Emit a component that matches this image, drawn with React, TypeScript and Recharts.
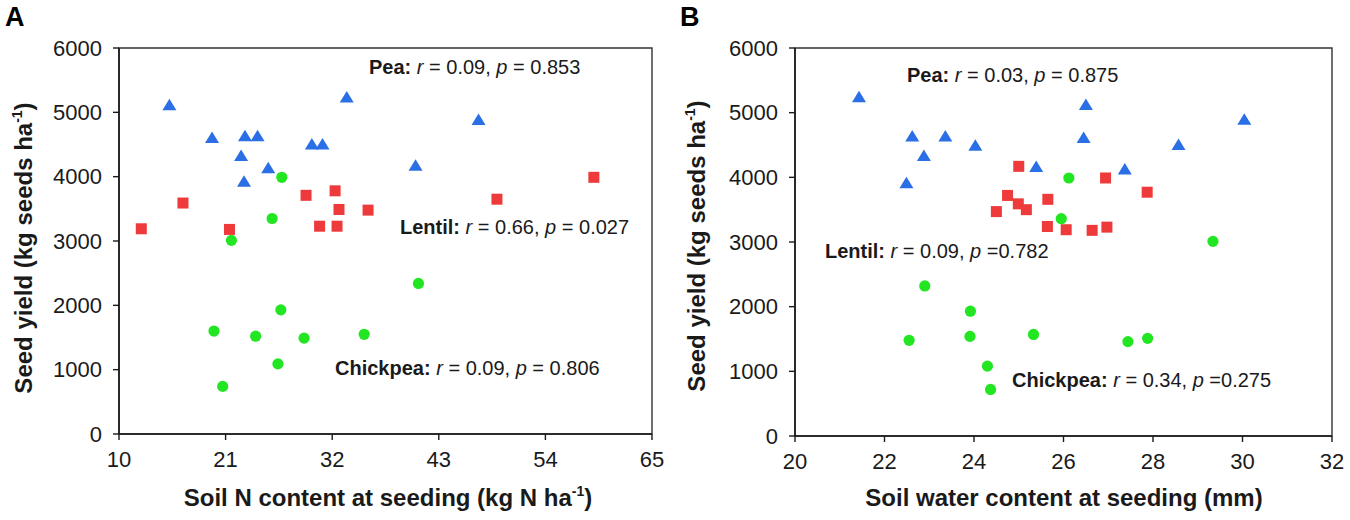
import React from 'react';
import { ScatterChart, Scatter, XAxis, YAxis, ReferenceArea } from 'recharts';

// ── Data ───────────────────────────────────────────────────────────────────
// Panel A: soil N content at seeding (kg N/ha) vs seed yield (kg/ha)
const peaA = [
  { x: 15.2, y: 5110 }, { x: 19.6, y: 4600 }, { x: 22.6, y: 4320 }, { x: 22.9, y: 3920 },
  { x: 23.0, y: 4630 }, { x: 24.3, y: 4630 }, { x: 25.4, y: 4130 }, { x: 29.9, y: 4500 },
  { x: 31.0, y: 4500 }, { x: 33.5, y: 5230 }, { x: 40.6, y: 4170 }, { x: 47.1, y: 4880 },
];
const lentilA = [
  { x: 12.3, y: 3190 }, { x: 16.6, y: 3590 }, { x: 21.4, y: 3180 }, { x: 29.3, y: 3710 },
  { x: 30.7, y: 3230 }, { x: 32.3, y: 3780 }, { x: 32.5, y: 3230 }, { x: 32.7, y: 3490 },
  { x: 35.7, y: 3480 }, { x: 49.0, y: 3650 }, { x: 59.0, y: 3990 },
];
const chickpeaA = [
  { x: 19.8, y: 1600 }, { x: 20.7, y: 740 }, { x: 21.6, y: 3010 }, { x: 24.1, y: 1520 },
  { x: 25.8, y: 3350 }, { x: 26.4, y: 1090 }, { x: 26.7, y: 1930 }, { x: 26.8, y: 3990 },
  { x: 29.1, y: 1490 }, { x: 35.3, y: 1550 }, { x: 40.9, y: 2340 },
];

// Panel B: soil water content at seeding (mm) vs seed yield (kg/ha)
const peaB = [
  { x: 21.43, y: 5240 }, { x: 22.49, y: 3910 }, { x: 22.62, y: 4630 }, { x: 22.88, y: 4330 },
  { x: 23.36, y: 4630 }, { x: 24.03, y: 4490 }, { x: 25.39, y: 4160 }, { x: 26.45, y: 4610 },
  { x: 26.5, y: 5120 }, { x: 27.37, y: 4120 }, { x: 28.57, y: 4500 }, { x: 30.04, y: 4890 },
];
const lentilB = [
  { x: 24.5, y: 3470 }, { x: 24.75, y: 3720 }, { x: 24.99, y: 3590 }, { x: 25.0, y: 4170 },
  { x: 25.17, y: 3500 }, { x: 25.64, y: 3240 }, { x: 25.65, y: 3660 }, { x: 26.06, y: 3190 },
  { x: 26.64, y: 3180 }, { x: 26.94, y: 3990 }, { x: 26.97, y: 3230 }, { x: 27.87, y: 3770 },
];
const chickpeaB = [
  { x: 22.55, y: 1480 }, { x: 22.9, y: 2320 }, { x: 23.91, y: 1540 }, { x: 23.92, y: 1930 },
  { x: 24.3, y: 1080 }, { x: 24.37, y: 720 }, { x: 25.33, y: 1570 }, { x: 25.95, y: 3360 },
  { x: 26.12, y: 3990 }, { x: 27.44, y: 1460 }, { x: 27.88, y: 1510 }, { x: 29.34, y: 3010 },
];

const nTicks = [10, 21, 32, 43, 54, 65];
const waterTicks = [20, 22, 24, 26, 28, 30, 32];
const yieldTicks = [0, 1000, 2000, 3000, 4000, 5000, 6000];

// ── Styling ────────────────────────────────────────────────────────────────
const FONT = '"Liberation Sans", Arial, sans-serif';
const INK = '#1a1a1a';
const PEA = '#2a6fe6';
const LENTIL = '#ee3a3a';
const CHICKPEA = '#22e622';

const tickStyle = { fill: INK, fontSize: 22, fontFamily: FONT };
const axisLine = { stroke: INK, strokeWidth: 1.6 };
const tickLine = { stroke: INK, strokeWidth: 1.4 };

// marker shapes — cx/cy come from the chart's scales
const Triangle = (p: any) => (
  <polygon
    points={`${p.cx},${p.cy - 6.5} ${p.cx - 7},${p.cy + 5} ${p.cx + 7},${p.cy + 5}`}
    fill={PEA}
  />
);
const Square = (p: any) => (
  <rect x={p.cx - 5.5} y={p.cy - 5.5} width={11} height={11} fill={LENTIL} />
);
const Dot = (p: any) => <circle cx={p.cx} cy={p.cy} r={5.6} fill={CHICKPEA} />;

function Stat({ x, y, crop, r, p }: { x: number; y: number; crop: string; r: string; p: string }) {
  return (
    <text x={x} y={y} fontSize={20} fontFamily={FONT} fill={INK}>
      <tspan fontWeight="bold">{crop}:</tspan>{' '}
      <tspan fontStyle="italic">r</tspan>{` = ${r}, `}
      <tspan fontStyle="italic">p</tspan>{` ${p}`}
    </text>
  );
}

function Panel({
  pea, lentil, chickpea, domain, ticks, margin,
}: {
  pea: any[]; lentil: any[]; chickpea: any[];
  domain: [number, number]; ticks: number[];
  margin: { top: number; right: number; bottom: number; left: number };
}) {
  return (
    <ScatterChart width={675} height={520} margin={margin}>
      <XAxis
        type="number" dataKey="x" domain={domain} ticks={ticks} height={30}
        tick={tickStyle} axisLine={axisLine} tickLine={tickLine} tickSize={6} tickMargin={11}
        interval={0}
      />
      <YAxis
        type="number" dataKey="y" domain={[0, 6000]} ticks={yieldTicks} width={70}
        tick={tickStyle} axisLine={axisLine} tickLine={tickLine} tickSize={6} tickMargin={11}
        interval={0}
      />
      <ReferenceArea
        x1={domain[0]} x2={domain[1]} y1={0} y2={6000}
        fill="none" stroke="#333" strokeWidth={1.4}
      />
      <Scatter data={pea} shape={Triangle} isAnimationActive={false} />
      <Scatter data={lentil} shape={Square} isAnimationActive={false} />
      <Scatter data={chickpea} shape={Dot} isAnimationActive={false} />
    </ScatterChart>
  );
}

export default function App() {
  return (
    <div style={{ position: 'absolute', left: 0, top: 0, width: 1350, height: 520, background: '#fff' }}>
      <div style={{ position: 'absolute', left: 0, top: 0 }}>
        <Panel
          pea={peaA} lentil={lentilA} chickpea={chickpeaA}
          domain={[10, 65]} ticks={nTicks}
          margin={{ top: 48, right: 23, bottom: 56, left: 49 }}
        />
      </div>
      <div style={{ position: 'absolute', left: 675, top: 0 }}>
        <Panel
          pea={peaB} lentil={lentilB} chickpea={chickpeaB}
          domain={[20, 32]} ticks={waterTicks}
          margin={{ top: 48, right: 18, bottom: 54, left: 50 }}
        />
      </div>

      {/* panel letters, axis titles and correlation notes */}
      <svg
        width={1350} height={520}
        style={{ position: 'absolute', left: 0, top: 0, pointerEvents: 'none' }}
      >
        <text x={5} y={26} fontSize={27} fontWeight="bold" fontFamily={FONT} fill="#000">A</text>
        <text x={680} y={26} fontSize={27} fontWeight="bold" fontFamily={FONT} fill="#000">B</text>

        <text x={388} y={506} textAnchor="middle" fontSize={24} fontWeight="bold" fontFamily={FONT} fill={INK}>
          Soil N content at seeding (kg N ha<tspan fontSize={14} dy={-10}>-1</tspan><tspan dy={10}>)</tspan>
        </text>
        <text x={1064} y={506} textAnchor="middle" fontSize={24} fontWeight="bold" fontFamily={FONT} fill={INK}>
          Soil water content at seeding (mm)
        </text>

        <text
          x={0} y={0} transform="translate(32 248) rotate(-90)" textAnchor="middle"
          fontSize={24} fontWeight="bold" fontFamily={FONT} fill={INK}
        >
          Seed yield (kg seeds ha<tspan fontSize={14} dy={-10}>-1</tspan><tspan dy={10}>)</tspan>
        </text>
        <text
          x={0} y={0} transform="translate(705 246) rotate(-90)" textAnchor="middle"
          fontSize={24} fontWeight="bold" fontFamily={FONT} fill={INK}
        >
          Seed yield (kg seeds ha<tspan fontSize={14} dy={-10}>-1</tspan><tspan dy={10}>)</tspan>
        </text>

        <Stat x={369} y={74} crop="Pea" r="0.09" p="= 0.853" />
        <Stat x={400} y={234} crop="Lentil" r="0.66" p="= 0.027" />
        <Stat x={335} y={375} crop="Chickpea" r="0.09" p="= 0.806" />
        <Stat x={907} y={82} crop="Pea" r="0.03" p="= 0.875" />
        <Stat x={825} y={258} crop="Lentil" r="0.09" p="=0.782" />
        <Stat x={1012} y={387} crop="Chickpea" r="0.34" p="=0.275" />
      </svg>
    </div>
  );
}
